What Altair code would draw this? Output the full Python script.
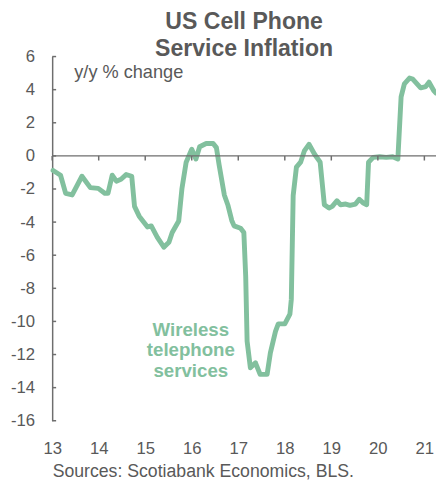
import altair as alt
import pandas as pd

# Wireless telephone services, y/y % change (x = year, 13 = 2013)
t = [13.02, 13.18, 13.29, 13.43, 13.64, 13.82, 13.99, 14.13, 14.20, 14.29, 14.38, 14.48, 14.59, 14.71,
     14.77, 14.87, 15.05, 15.13, 15.26, 15.40, 15.51, 15.58, 15.72, 15.79, 15.88, 16.00, 16.09, 16.17,
     16.31, 16.46, 16.53, 16.59, 16.70, 16.78, 16.86, 16.91, 17.05, 17.12, 17.16, 17.19, 17.26, 17.37,
     17.47, 17.62, 17.69, 17.80, 17.86, 18.00, 18.11, 18.14, 18.18, 18.25, 18.34, 18.42, 18.52, 18.64,
     18.76, 18.85, 18.95, 19.02, 19.12, 19.20, 19.31, 19.40, 19.52, 19.60, 19.69, 19.76, 19.80, 19.90,
     20.04, 20.18, 20.32, 20.43, 20.50, 20.57, 20.68, 20.75, 20.92, 21.03, 21.10, 21.20, 21.25]
v = [-0.88, -1.17, -2.26, -2.36, -1.23, -1.92, -1.96, -2.26, -2.26, -1.17, -1.53, -1.41, -1.13, -1.23,
     -3.05, -3.64, -4.29, -4.23, -4.92, -5.51, -5.22, -4.63, -3.93, -1.96, -0.38, 0.40, -0.19, 0.55,
     0.75, 0.75, 0.50, -0.58, -2.36, -3.00, -3.90, -4.23, -4.37, -4.63, -7.30, -11.20, -12.80, -12.50,
     -13.20, -13.20, -11.90, -10.60, -10.15, -10.15, -9.56, -8.67, -2.40, -0.68, -0.38, 0.30, 0.70, 0.10,
     -0.38, -2.95, -3.15, -3.05, -2.71, -2.95, -2.91, -2.99, -2.91, -2.62, -2.85, -2.95, -0.38, -0.09,
     -0.05, -0.09, -0.05, -0.19, 3.56, 4.35, 4.70, 4.64, 4.11, 4.19, 4.45, 3.95, 3.80]

x_ticks = [13, 14, 15, 16, 17, 18, 19, 20, 21]
y_ticks = [-16, -14, -12, -10, -8, -6, -4, -2, 0, 2, 4, 6]

GREEN = "#82c09e"
GREY = "#595959"
AXIS = "#6e6e6e"
FONT = "Liberation Sans"

df = pd.DataFrame({"t": t, "v": v})
xt = pd.DataFrame({"t": x_ticks, "y0": 0, "y1": -0.28})
yt = pd.DataFrame({"v": y_ticks, "x0": 13.0, "x1": 13.085})
zero = pd.DataFrame({"z": [0]})
ann = pd.DataFrame({"t": [15.98], "v": [-10.5], "label": [["Wireless", "telephone", "services"]]})

xscale = alt.Scale(domain=[13, 21.25], nice=False, zero=False)
yscale = alt.Scale(domain=[-16, 6], nice=False, zero=False)

xaxis = alt.Axis(values=x_ticks, labelExpr="datum.value + ''", domain=False, ticks=False, grid=False,
                 labelFontSize=17, labelColor=GREY, labelPadding=20, labelFlush=False, labelFont=FONT,
                 labelOverlap=False,
                 title="Sources: Scotiabank Economics, BLS.", titleAnchor="start", titleAlign="left",
                 titleFontWeight="normal", titleFontSize=18, titleColor=GREY, titleFont=FONT,
                 titlePadding=7)
yaxis = alt.Axis(values=y_ticks, labelExpr="datum.value + ''", domain=True, domainColor=AXIS,
                 domainWidth=1.5, ticks=False, grid=False, labelOverlap=False,
                 labelFontSize=17, labelColor=GREY, labelPadding=18, labelFont=FONT,
                 title="y/y % change", titleAngle=0, titleAlign="left", titleBaseline="middle",
                 titleX=22, titleY=15, titleFontWeight="normal", titleFontSize=18.5, titleColor=GREY,
                 titleFont=FONT)


def X(field):
    return alt.X(field, scale=xscale, axis=xaxis)


def Y(field):
    return alt.Y(field, scale=yscale, axis=yaxis)


line = alt.Chart(df).mark_line(color=GREEN, strokeWidth=5, strokeJoin="round", strokeCap="round").encode(
    x=X("t:Q"), y=Y("v:Q"))

zero_line = alt.Chart(zero).mark_rule(color=AXIS, strokeWidth=1.5).encode(y=Y("z:Q"))

xtick_marks = alt.Chart(xt).mark_rule(color=AXIS, strokeWidth=1.5).encode(
    x=X("t:Q"), y=Y("y0:Q"), y2="y1:Q")
ytick_marks = alt.Chart(yt).mark_rule(color=AXIS, strokeWidth=1.5).encode(
    y=Y("v:Q"), x=X("x0:Q"), x2="x1:Q")

label = alt.Chart(ann).mark_text(color=GREEN, fontSize=19, fontWeight="bold", font=FONT,
                                 lineHeight=21, align="center", baseline="middle").encode(
    x=X("t:Q"), y=Y("v:Q"), text="label")

chart = alt.layer(line, zero_line, xtick_marks, ytick_marks, label).properties(
    width=391, height=371,
    title=alt.TitleParams(["US Cell Phone", "Service Inflation"], fontSize=23.5, fontWeight="bold",
                          color=GREY, font=FONT, lineHeight=28, anchor="middle", offset=0, dy=13),
    autosize=alt.AutoSizeParams(type="none"),
    padding={"left": 45, "top": 45, "right": 0, "bottom": 62},
).configure_view(stroke=None)

chart.save("out.html", embed_options={"renderer": "svg", "actions": False})
